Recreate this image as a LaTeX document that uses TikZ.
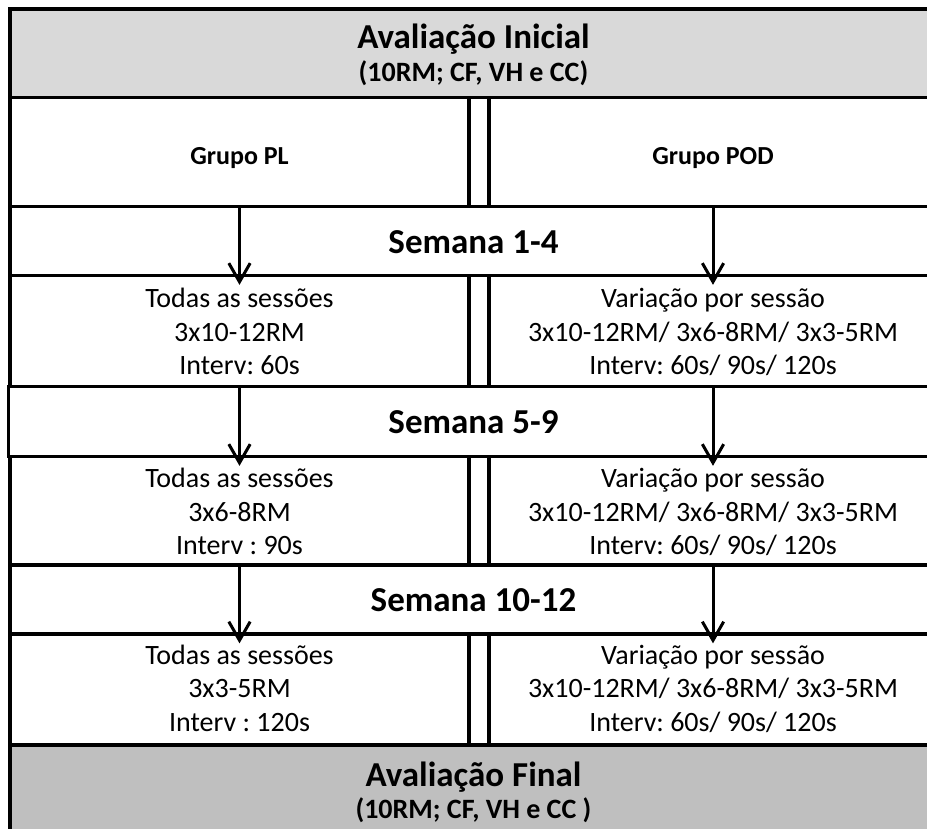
\documentclass[tikz,border=0pt]{standalone}
\usepackage{fontspec}
\setmainfont{Carlito}
\usetikzlibrary{arrows.meta,fit}
\definecolor{headgray}{HTML}{D9D9D9}
\definecolor{footgray}{HTML}{BFBFBF}
\begin{document}
\frenchspacing
\begin{tikzpicture}[x=0.75pt,y=-0.75pt,
  frame/.style={rectangle, draw=black, line width=2.55pt, inner sep=0pt, outer sep=0pt},
  lbl/.style={inner sep=0pt, outer sep=0pt, text=black, align=center},
  titletxt/.style={lbl, font=\fontsize{26.25pt}{31pt}\selectfont\bfseries},
  subtxt/.style={lbl, font=\fontsize{21pt}{26pt}\selectfont\bfseries},
  grptxt/.style={lbl, font=\fontsize{19.5pt}{24pt}\selectfont\bfseries},
  weektxt/.style={lbl, font=\fontsize{26.25pt}{31pt}\selectfont\bfseries},
  celltxt/.style={lbl, font=\fontsize{21pt}{25.125pt}\selectfont},
  flow/.style={line width=2.25pt, -{Straight Barb[length=14pt,width=16pt]}}]
\useasboundingbox (0,0) rectangle (927,828);
\clip (0,0) rectangle (927,828);
\fill[white] (0,0) rectangle (927,828);

% frames of the table
\node[frame, fill=headgray, fit={(10,9) (937,97.5)}] (init) {};
\node[frame, fit={(10,97.5) (469,206.5)}] (grpL) {};
\node[frame, fit={(489,97.5) (937,206.5)}] (grpR) {};
\node[frame, fit={(10,206.5) (937,275.5)}] (wk1) {};
\node[frame, fit={(10,275.5) (469,386.5)}] (c1L) {};
\node[frame, fit={(489,275.5) (937,386.5)}] (c1R) {};
\node[frame, fit={(8.5,386.5) (937,456.5)}] (wk2) {};
\node[frame, fit={(10,456.5) (469,565)}] (c2L) {};
\node[frame, fit={(489,456.5) (937,565)}] (c2R) {};
\node[frame, fit={(10,565) (937,634)}] (wk3) {};
\node[frame, fit={(10,634) (469,745)}] (c3L) {};
\node[frame, fit={(489,634) (937,745)}] (c3R) {};
\node[frame, fill=footgray, fit={(10,745) (937,850)}] (fim) {};

% texts (multi-line cells are anchored on the baseline of their last line)
\node[titletxt, anchor=base] (t1) at (473.5,48) {Avaliação Inicial};
\node[subtxt, anchor=base] (t2) at (473.5,81) {(10RM; CF, VH e CC)};
\node[grptxt, anchor=base] (gL) at (239.5,164) {Grupo PL};
\node[grptxt, anchor=base] (gR) at (713,164) {Grupo POD};
\node[weektxt, anchor=base] (w1) at (473.5,253) {Semana 1-4};
\node[weektxt, anchor=base] (w2) at (473.5,433) {Semana 5-9};
\node[weektxt, anchor=base] (w3) at (473.5,611) {Semana 10-12};

\node[celltxt, anchor=base] (x1L) at (239.5,374.5) {Todas as sessões\\3x10-12RM\\Interv: 60s};
\node[celltxt, anchor=base] (x1R) at (713,374.5) {Variação por sessão\\3x10-12RM/ 3x6-8RM/ 3x3-5RM\\Interv: 60s/ 90s/ 120s};
\node[celltxt, anchor=base] (x2L) at (239.5,554.5) {Todas as sessões\\3x6-8RM\\Interv : 90s};
\node[celltxt, anchor=base] (x2R) at (713,554.5) {Variação por sessão\\3x10-12RM/ 3x6-8RM/ 3x3-5RM\\Interv: 60s/ 90s/ 120s};
\node[celltxt, anchor=base] (x3L) at (239.5,731) {Todas as sessões\\3x3-5RM\\Interv : 120s};
\node[celltxt, anchor=base] (x3R) at (713,731) {Variação por sessão\\3x10-12RM/ 3x6-8RM/ 3x3-5RM\\Interv: 60s/ 90s/ 120s};

\node[titletxt, anchor=base] (f1) at (473.5,786) {Avaliação Final};
\node[subtxt, anchor=base] (f2) at (473.5,818) {(10RM; CF, VH e CC )};

% arrows through the week bands
\draw[flow] (grpL.south) -- ([yshift=-7pt]c1L.north);
\draw[flow] (grpR.south) -- ([yshift=-7pt]c1R.north);
\draw[flow] (c1L.south) -- ([yshift=-7pt]c2L.north);
\draw[flow] (c1R.south) -- ([yshift=-7pt]c2R.north);
\draw[flow] (c2L.south) -- ([yshift=-7pt]c3L.north);
\draw[flow] (c2R.south) -- ([yshift=-7pt]c3R.north);
\end{tikzpicture}
\end{document}
